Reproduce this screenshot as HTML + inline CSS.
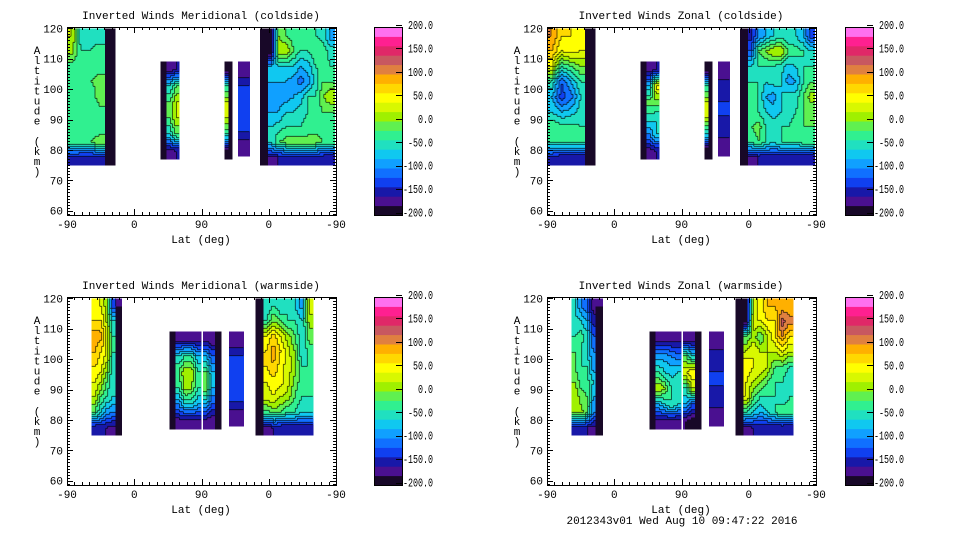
<!DOCTYPE html>
<html><head><meta charset="utf-8"><style>
html,body{margin:0;padding:0;background:#fff;}
svg{display:block;font-family:"Liberation Mono",monospace;}
</style></head><body>
<svg id="chart" width="960" height="540" viewBox="0 0 960 540"></svg>
<script>
// color levels bottom(-200) -> top(200), step 20
const levelColors = ["#180828","#4a1090","#1818a8","#1040f0","#1070ff","#10a0ff","#10c8f0","#20e0c0","#30f090","#60f050","#a0f000","#d8f800","#ffff00","#ffd800","#ffb000","#e08040","#c85860","#e02868","#ff2090","#ff70f0"];
const colorbarTicks = [200,150,100,50,0,-50,-100,-150,-200];
const altTicks = [60,70,80,90,100,110,120];
const latTickLabels = ["-90","0","90","0","-90"];
const latTickUnits = [0,90,180,270,360];
const panelTitles = ["Inverted Winds Meridional (coldside)","Inverted Winds Zonal (coldside)","Inverted Winds Meridional (warmside)","Inverted Winds Zonal (warmside)"];

// strips: u0,u1 (track units 0..360), a0,a1 (km), columns of values bottom->top
const meridCold = [
 {u0:0,u1:64,a0:75,a1:120,cols:[[-150,-30,-30,-30,-30,-20,-30,10,20],[-160,-20,-40,-40,-40,-20,-40,-40,-60],[-160,-20,-40,-40,-40,-20,-30,-40,-50],[-160,0,-40,-30,0,-10,-30,-20,-60],[-190,-200,-200,-200,-200,-200,-200,-200,-200]]},
 {u0:125,u1:150,a0:77,a1:109,cols:[[-190,-200,-200,-200,-200,-190],[-170,-60,-20,-20,-60,-170],[-160,-20,20,20,-20,-160]]},
 {u0:211,u1:221,a0:77,a1:109,cols:[[-200,-40,20,20,-40,-190],[-190,-200,-200,-200,-200,-190]]},
 {u0:229,u1:244,a0:78,a1:109,cols:[[-180,-140,-130,-130,-140,-180]]},
 {u0:258,u1:358,a0:75,a1:120,cols:[[-190,-200,-200,-200,-200,-200,-200,-200,-200],[-170,-60,-60,-80,-90,-80,-80,-200,-200],[-160,-20,-50,-80,-90,-80,-60,20,0],[-160,-10,-40,-60,-90,-80,-60,20,-20],[-160,-10,-40,-60,-80,-90,-60,-20,-30],[-160,-10,-40,-50,-70,-110,-80,-40,-30],[-160,-10,-30,-40,-40,-90,-70,-40,-40],[-160,-10,-30,-30,-40,-50,-40,-20,-40],[-160,-20,-30,-20,0,-20,-30,-30,-50],[-160,-30,-30,-20,20,-20,-40,-50,-90]]}
];
const zonalCold = [
 {u0:0,u1:64,a0:75,a1:120,cols:[[-150,-40,-20,-60,-80,-40,40,80,100],[-160,-40,-30,-80,-130,-120,-40,40,60],[-160,-40,-30,-70,-110,-80,-20,50,60],[-160,-40,-40,-50,-60,-40,0,40,40],[-190,-200,-200,-200,-200,-200,-200,-200,-200]]},
 {u0:125,u1:150,a0:77,a1:109,cols:[[-190,-200,-200,-200,-200,-190],[-170,-100,-50,-10,-80,-170],[-160,-60,-60,-10,50,-160]]},
 {u0:211,u1:221,a0:77,a1:109,cols:[[-200,-60,20,20,-40,-190],[-190,-200,-200,-200,-200,-190]]},
 {u0:229,u1:244,a0:78,a1:109,cols:[[-180,-150,-140,-140,-150,-180]]},
 {u0:258,u1:358,a0:75,a1:120,cols:[[-190,-200,-200,-200,-200,-200,-200,-200,-200],[-170,-40,-20,-40,-40,-40,-60,-120,-150],[-160,-20,-10,-40,-40,-40,-40,-20,-100],[-160,-40,-40,-60,-80,-60,-40,0,-80],[-160,-60,-50,-70,-90,-50,-40,20,-60],[-160,-40,-40,-60,-60,-60,-50,20,-50],[-160,-40,-40,-50,-50,-90,-70,-20,-60],[-160,-40,-30,-40,-50,-80,-60,-30,-60],[-160,-30,-20,-20,-20,-40,-40,-40,-80],[-160,-30,-20,-20,10,-20,-40,-60,-130]]}
];
const meridWarm = [
 {u0:33,u1:73,a0:75,a1:120,cols:[[-160,-20,20,40,60,80,90,60,50],[-160,-60,-20,20,50,60,90,60,40],[-160,-90,-40,-20,10,40,40,20,10],[-170,-100,-60,-60,-50,-40,-40,-60,-130],[-190,-200,-200,-200,-200,-200,-200,-200,-180]]},
 {u0:137,u1:179,a0:77,a1:109,cols:[[-190,-200,-200,-200,-200,-190],[-170,-100,-40,-20,-60,-170],[-170,-60,10,20,-40,-170],[-170,-60,0,20,-40,-170],[-170,-80,-40,-40,-80,-170]]},
 {u0:182,u1:206,a0:77,a1:109,cols:[[-170,-80,-10,-20,-80,-170],[-180,-120,-80,-80,-120,-180],[-190,-200,-200,-200,-200,-190]]},
 {u0:217,u1:236,a0:78,a1:109,cols:[[-180,-140,-130,-130,-140,-180]]},
 {u0:252,u1:329,a0:75,a1:120,cols:[[-190,-200,-200,-200,-200,-200,-200,-200,-200],[-170,-30,30,40,60,60,40,-40,-60],[-160,-10,40,50,80,90,70,0,-40],[-160,-20,20,50,50,60,40,-20,-60],[-160,-40,10,30,30,30,10,-40,-40],[-160,-40,-20,-10,10,0,-20,-40,-60],[-160,-60,-40,-30,-40,-60,-60,-60,-90],[-160,-60,-40,-30,-40,-30,-10,10,30]]}
];
const zonalWarm = [
 {u0:33,u1:74,a0:75,a1:120,cols:[[-160,10,20,0,-20,-20,-40,-50,-60],[-160,10,-10,-30,-40,-40,-30,-60,-100],[-160,-20,-20,-30,-40,-60,-50,-80,-120],[-170,-100,-80,-60,-90,-100,-120,-150,-170],[-190,-200,-200,-200,-200,-200,-200,-200,-180]]},
 {u0:137,u1:179,a0:77,a1:109,cols:[[-190,-200,-200,-200,-200,-190],[-170,-80,20,-40,-90,-170],[-170,-60,0,-60,-90,-170],[-170,-40,-40,-70,-100,-170],[-170,-60,-40,-60,-110,-170]]},
 {u0:182,u1:206,a0:77,a1:109,cols:[[-180,-80,-40,40,-20,-170],[-190,-120,20,60,-60,-180],[-190,-200,-200,-200,-200,-190]]},
 {u0:217,u1:236,a0:78,a1:109,cols:[[-180,-150,-140,-140,-150,-180]]},
 {u0:252,u1:329,a0:75,a1:120,cols:[[-190,-200,-200,-200,-200,-200,-200,-200,-200],[-170,-40,40,40,60,20,-20,-200,-200],[-160,-60,-20,20,40,40,10,40,20],[-160,-80,-40,0,40,20,-20,40,50],[-160,-60,-40,-20,20,20,20,60,80],[-160,-40,-40,-40,-20,20,60,60,80],[-160,-20,-60,-40,-20,40,100,130,90],[-160,-30,-40,-60,-40,20,60,110,80]]}
];
const panelData = [meridCold, zonalCold, meridWarm, zonalWarm];
const panelOffsets = [[0,0],[480,0],[0,270],[480,270]];

const NS="http://www.w3.org/2000/svg";
const svg=document.getElementById('chart');
function mk(tag,attrs,parent){const e=document.createElementNS(NS,tag);for(const k in attrs)e.setAttribute(k,attrs[k]);(parent||svg).appendChild(e);return e;}
function levelIdx(v){let i=Math.floor((v+200)/20);if(i<0)i=0;if(i>19)i=19;return i;}
function isEdge(col){return col.filter(v=>v<=-190).length>col.length/2;}
function colValue(col,fj){
  const m=col.length;
  fj=Math.max(0,Math.min(m-1,fj));
  const j0=Math.floor(fj), j1=Math.min(m-1,j0+1), t=fj-j0;
  return col[j0]*(1-t)+col[j1]*t;
}
function sampleStrip(s,u,a){
  const n=s.cols.length, m=s.cols[0].length;
  const cw=(s.u1-s.u0)/n, rh=(s.a1-s.a0)/m;
  const fj=(a-s.a0)/rh-0.5;
  let ci=Math.floor((u-s.u0)/cw); ci=Math.max(0,Math.min(n-1,ci));
  const col=s.cols[ci];
  if(isEdge(col)) return colValue(col,fj);
  let fi=(u-s.u0)/cw-0.5;
  let i0=Math.floor(fi), i1=i0+1, t=fi-i0;
  if(i0<0||isEdge(s.cols[i0])){i0=ci;t=0;}
  if(i1>n-1||isEdge(s.cols[i1])){i1=ci;}
  if(i0===i1) return colValue(col,fj);
  return colValue(s.cols[i0],fj)*(1-t)+colValue(s.cols[i1],fj)*t;
}

panelData.forEach((strips,p)=>{
  const [ox,oy]=panelOffsets[p];
  const g=mk('g',{});
  
  
  const xS=u=>67+ox+u*269/360;
  const yS=a=>28.3+oy+(120-a)*3.04;
  const uOf=x=>(x-67-ox)*360/269;
  const aOf=y=>120-(y-28.3-oy)/3.04;
  const t=mk('text',{x:201+ox,y:19+oy,'text-anchor':'middle','font-size':'11'},g);
  t.textContent=panelTitles[p];
  
  
  const fg=mk('g',{'shape-rendering':'crispEdges'},g);
  
  
  const step=2;
  let lineD='';
  function flush(x,w,y0,y1,idx){
    if(idx<0||y1<=y0)return;
    const r=mk('rect',{x:x,y:y0,width:w+0.5,height:y1-y0+0.5,fill:levelColors[idx]},fg);
    
    
  }
  strips.forEach(s=>{
    const xa=xS(s.u0), xb=xS(s.u1), ya=yS(s.a1), yb=yS(s.a0);
    let prevCol=null;
    for(let x=xa;x<xb;x+=step){
      const w=Math.min(step,xb-x);
      const u=uOf(x+w/2);
      let runStart=ya, runIdx=-1, y=ya, k=0;
      const curCol=[];
      for(;y<yb;y+=step,k++){
        const h=Math.min(step,yb-y);
        const idx=levelIdx(sampleStrip(s,u,aOf(y+h/2)));
        curCol.push(idx);
        if(idx!==runIdx){
          flush(x,w,runStart,y,runIdx);
          if(runIdx>=0 && idx>0 && runIdx>0) lineD+=`M${x.toFixed(1)} ${y.toFixed(1)}h${w.toFixed(1)}`;
          runStart=y;runIdx=idx;
        }
        if(prevCol && prevCol[k]!==undefined && prevCol[k]!==idx && idx>0 && prevCol[k]>0) lineD+=`M${x.toFixed(1)} ${y.toFixed(1)}v${h.toFixed(1)}`;
      }
      flush(x,w,runStart,yb,runIdx);
      prevCol=curCol;
    }
  });
  const cl=mk('path',{d:lineD,stroke:'#000','stroke-width':0.8,'stroke-opacity':0.75,fill:'none'},g);
  
  
  // frame
  const px0=67+ox, py0=27+oy, pw=269, ph=188;
  const fr=mk('rect',{x:px0+0.5,y:py0+0.5,width:pw,height:ph,fill:'none',stroke:'#000','stroke-width':1},g);
  
  
  let d='';
  for(let a=59;a<=120;a++){const y=Math.round(yS(a))+0.5;const L=(a%10===0)?6:3;d+=`M${px0} ${y}h${L}M${px0+pw} ${y}h${-L}`;}
  for(let u=0;u<=360;u+=10){const x=Math.round(xS(u))+0.5;const L=(u%90===0)?6:3;d+=`M${x} ${py0}v${L}M${x} ${py0+ph}v${-L}`;}
  mk('path',{d:d,stroke:'#000','stroke-width':1,fill:'none'},g);
  altTicks.forEach(a=>{const tt=mk('text',{x:px0-4,y:yS(a)+4,'text-anchor':'end','font-size':'11'},g);tt.textContent=a;
    });
  latTickUnits.forEach((u,k)=>{const tt=mk('text',{x:xS(u),y:py0+ph+13,'text-anchor':'middle','font-size':'11'},g);tt.textContent=latTickLabels[k];
    });
  const xt=mk('text',{x:201+ox,y:243+oy,'text-anchor':'middle','font-size':'11'},g);xt.textContent='Lat (deg)';
  
  const yt=mk('text',{x:37+ox,y:0,'text-anchor':'middle','font-size':'11'},g);
  
  'Altitude (km)'.split('').forEach((c,k)=>{const ts=mk('tspan',{x:37+ox,y:54+oy+k*10.1},yt);ts.textContent=c===' '?'\u00a0':c;});
  // colorbar
  const cbx=ox?845:374, cy0=27+oy, cbh=188, cbw=28;
  const cb=mk('g',{},g);
  levelColors.forEach((c,i)=>{mk('rect',{x:cbx,y:cy0+cbh-(i+1)*cbh/20,width:cbw,height:cbh/20+0.5,fill:c},cb);});
  mk('rect',{x:cbx+0.5,y:cy0+0.5,width:cbw,height:cbh,fill:'none',stroke:'#000'},cb);
  colorbarTicks.forEach(v=>{const y=25+oy+(200-v)/400*187.6;
    mk('path',{d:`M${cbx+cbw} ${Math.round(y)+0.5}h-6`,stroke:'#000'},cb);
    const label=v.toFixed(1);
    const len=label.length*5;
    const tt=mk('text',{x:cbx+59-len,y:y+4,'font-size':'12',textLength:len,lengthAdjust:'spacingAndGlyphs'},cb);tt.textContent=label;
    });
});
const ft=mk('text',{x:682,y:524,'text-anchor':'middle','font-size':'11'});
ft.textContent='2012343v01 Wed Aug 10 09:47:22 2016';


</script>
</body></html>
